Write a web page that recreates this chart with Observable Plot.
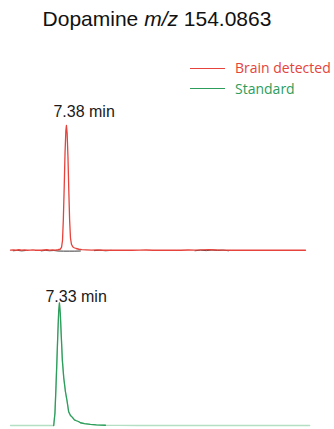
<!DOCTYPE html>
<html>
<head>
<meta charset="utf-8">
<script src="https://cdn.jsdelivr.net/npm/d3@7"></script>
<script src="https://cdn.jsdelivr.net/npm/@observablehq/plot@0.6"></script>
<style>
  html, body { margin: 0; padding: 0; background: #fff; }
  #wrap { width: 334px; height: 429px; position: relative; overflow: hidden; }
  #head { position: relative; width: 334px; height: 100px; }
  #title { position: absolute; left: 0; width: 314px; text-align: center; top: 8px;
           font-family: "Liberation Sans", Arial, sans-serif; font-size: 21px; line-height: 21px; color: #111; white-space: nowrap; }
  .lg-line { position: absolute; left: 190px; width: 35px; height: 1.3px; }
  .lg-text { position: absolute; left: 235px; font-family: "Open Sans", sans-serif; font-size: 14px; line-height: 14px; white-space: nowrap; }
  svg { display: block; }
</style>
</head>
<body>
<div id="wrap">
  <div id="head"></div>
  <div id="chart"></div>
</div>
<script>
// ---- data ----
const seriesNames = ["Brain detected", "Standard"];
const seriesColors = ["#e5433c", "#2c9d5b"];
const titleText = "Dopamine";
const titleMz = "m/z";
const titleMass = "154.0863";

// Brain detected (top trace): retention time (min) and relative intensity
const brainTime = [6.98, 7.00, 7.02, 7.04, 7.06, 7.08, 7.10, 7.12, 7.14, 7.16, 7.18, 7.20, 7.22, 7.24, 7.26, 7.28, 7.30, 7.32, 7.335, 7.345,
  7.352, 7.358, 7.364, 7.370, 7.376, 7.380, 7.385, 7.391, 7.397, 7.403, 7.409, 7.416, 7.425, 7.435, 7.45, 7.47, 7.49, 7.52, 7.56, 7.60,
  7.65, 7.70, 7.75, 7.80, 7.85, 7.90, 7.95, 8.00, 8.05, 8.10, 8.15, 8.20, 8.25, 8.30, 8.35, 8.40, 8.45, 8.50, 8.55, 8.60, 8.65, 8.70, 8.75, 8.80, 8.85, 8.90, 8.95, 9.00, 9.05, 9.09];
const brainValue = [0.3, 0.5, 0.2, 0.6, 0.3, 0.4, 0.2, 0.3, 0.5, 0.2, 0.3, 0.2, 0.4, 0.6, 0.3, 0.5, 0.3, 0.6, 1.0, 2.5,
  8, 25, 50, 78, 96, 100, 94, 75, 48, 24, 10, 5, 3, 2.2, 1.6, 1.0, 0.7, 0.5, 0.3, 0.4,
  0.2, 0.3, 0.2, 0.3, 0.2, 0.3, 0.4, 0.2, 0.3, 0.2, 0.3, 0.2, 0.4, 0.3, 0.5, 0.6, 0.4, 0.3, 0.2, 0.3, 0.2, 0.3, 0.2, 0.3, 0.2, 0.3, 0.2, 0.3, 0.2, 0.2];

// Blank/noise trace drawn in dark grey beneath the brain trace (null = gap)
const blankTime = [7.00, 7.03, 7.06, 7.09, 7.12, 7.15, 7.20, 7.23, 7.26, 7.29, 7.32, 7.36, 7.40, 7.44, 7.48, 7.52, 7.58, 7.62, 7.66, 7.70, 7.74,
  8.30, 8.34, 8.38, 8.42, 8.46, 8.50, 8.54];
const blankValue = [-0.2, 0.1, -0.3, 0.0, null, null, -0.3, 0.1, -0.2, 0.0, -0.4, -0.5, -0.5, -0.5, -0.4, null, -0.1, 0.2, -0.2, 0.1, null,
  -0.2, 0.3, -0.1, 0.4, 0.0, 0.3, -0.2];

// Standard (bottom trace)
const stdTime = [6.98, 7.05, 7.10, 7.15, 7.20, 7.25, 7.289, 7.298, 7.305, 7.312, 7.319, 7.325, 7.330, 7.336, 7.343, 7.351, 7.361, 7.373, 7.384,
  7.396, 7.409, 7.423, 7.437, 7.451, 7.466, 7.48, 7.509, 7.551, 7.594, 7.659, 7.75, 7.90, 8.10, 8.30, 8.50, 8.70, 8.90, 9.09, 9.12];
const stdValue = [0, 0, 0, 0, 0, 0, 0, 10, 30, 52, 75, 92, 98, 90, 72, 52, 38, 27, 20,
  11, 8, 6.5, 4.5, 3.8, 3.2, 2.2, 1.5, 0.9, 0.5, 0.2, 0.1, 0, 0, 0, 0, 0, 0, 0, 0];

// Peak annotations
const peakSeries = ["Brain detected", "Standard"];
const peakTime = [7.38, 7.33];
const peakValue = [100, 98];
const peakLabel = ["7.38 min", "7.33 min"];

// ---- build tables ----
const brain = brainTime.map((t, i) => ({series: "Brain detected", t, v: brainValue[i]}));
const std = stdTime.map((t, i) => ({series: "Standard", t, v: stdValue[i]}));
const stdPeak = std.filter(d => d.t >= 7.285 && d.t <= 7.66);
const blank = blankTime.map((t, i) => ({series: "Brain detected", t, v: blankValue[i]}));
const peaks = peakSeries.map((s, i) => ({series: s, t: peakTime[i], v: peakValue[i], label: peakLabel[i]}));

// ---- header (title + legend) ----
const head = document.getElementById("head");
const title = document.createElement("div");
title.id = "title";
title.innerHTML = `${titleText} <i>${titleMz}</i> ${titleMass}`;
head.appendChild(title);
const lineTops = [67.6, 87.6];
const textTops = [60.6, 81.6];
seriesNames.forEach((name, i) => {
  const l = document.createElement("div");
  l.className = "lg-line";
  l.style.top = lineTops[i] + "px";
  l.style.background = seriesColors[i];
  head.appendChild(l);
  const t = document.createElement("div");
  t.className = "lg-text";
  t.style.top = textTops[i] + "px";
  t.style.color = seriesColors[i];
  t.textContent = name;
  head.appendChild(t);
});

// ---- chart ----
const chart = Plot.plot({
  width: 334,
  height: 329,
  marginLeft: 10,
  marginRight: 29,
  marginTop: 0,
  marginBottom: 4,
  style: {fontFamily: "'Liberation Sans', Arial, sans-serif", background: "white", overflow: "visible"},
  x: {domain: [6.98, 9.09], axis: null},
  y: {domain: [0, 120], axis: null},
  fy: {domain: seriesNames, axis: null, paddingInner: 25 / 175, paddingOuter: 0},
  marks: [
    Plot.line(blank, {x: "t", y: "v", fy: "series", stroke: "#3a3a3a", strokeWidth: 1}),
    Plot.line(brain, {x: "t", y: "v", fy: "series", stroke: seriesColors[0], strokeWidth: 1.3}),
    Plot.line(std, {x: "t", y: "v", fy: "series", stroke: "#b4dfc4", strokeWidth: 1.3}),
    Plot.line(stdPeak, {x: "t", y: "v", fy: "series", stroke: seriesColors[1], strokeWidth: 1.3}),
    Plot.text(peaks.filter(d => d.series === "Brain detected"), {x: "t", y: "v", fy: "series", text: "label",
      textAnchor: "start", lineAnchor: "bottom", dx: -13, dy: -8.5, fontSize: 16, fill: "#1a1a1a"}),
    Plot.text(peaks.filter(d => d.series === "Standard"), {x: "t", y: "v", fy: "series", text: "label",
      textAnchor: "start", lineAnchor: "bottom", dx: -14, dy: -1.5, fontSize: 16, fill: "#1a1a1a"})
  ]
});
document.getElementById("chart").appendChild(chart);
</script>
</body>
</html>
